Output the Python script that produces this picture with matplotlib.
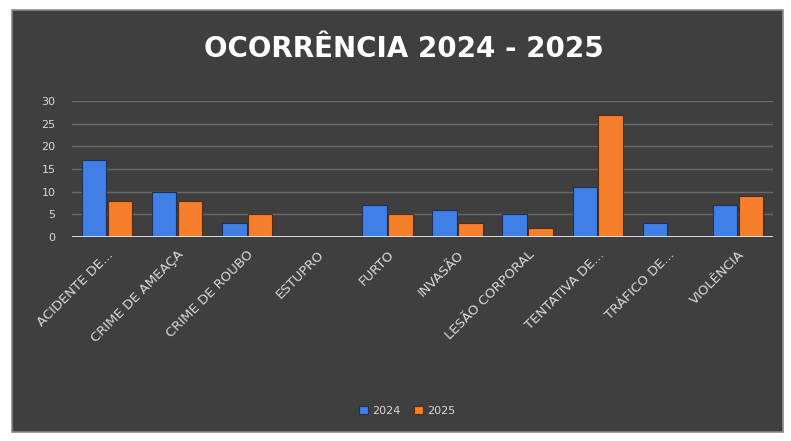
import numpy as np
import matplotlib
matplotlib.use("Agg")
import matplotlib.pyplot as plt
from matplotlib.patches import Rectangle

# data
categories = [
    "ACIDENTE DE...", "CRIME DE AMEAÇA", "CRIME DE ROUBO", "ESTUPRO",
    "FURTO", "INVASÃO", "LESÃO CORPORAL", "TENTATIVA DE...",
    "TRÁFICO DE...", "VIOLÊNCIA",
]
values_2024 = [17, 10, 3, 0, 7, 6, 5, 11, 3, 7]
values_2025 = [8, 8, 5, 0, 5, 3, 2, 27, 0, 9]
yticks = [0, 5, 10, 15, 20, 25, 30]

BG = "#3f3f3f"
BLUE = "#3f7fe6"
ORANGE = "#f57f2a"
TEXT = "#d9d9d9"

fig = plt.figure(figsize=(7.91, 4.41), dpi=100)
fig.patch.set_facecolor("white")
fig.add_artist(Rectangle((12 / 791, 9 / 441), 771 / 791, 422 / 441,
                         transform=fig.transFigure, facecolor=BG,
                         edgecolor="#8a8a8a", linewidth=1.2, zorder=0))

ax = fig.add_axes([72 / 791, 204 / 441, 701 / 791, 136 / 441])
ax.set_facecolor("none")

x = np.arange(len(categories))
w = 0.35
ax.bar(x - w / 2 - 0.01, values_2024, w, color=BLUE, edgecolor="#1f2f55",
       linewidth=0.8, label="2024", zorder=3)
ax.bar(x + w / 2 + 0.01, values_2025, w, color=ORANGE, edgecolor="#5a2a10",
       linewidth=0.8, label="2025", zorder=3)

ax.set_xlim(-0.5, len(categories) - 0.5)
ax.set_ylim(0, 30)
ax.set_yticks(yticks)
ax.set_yticklabels([str(t) for t in yticks], color=TEXT, fontsize=8)
ax.yaxis.set_tick_params(length=0, pad=12)
ax.grid(axis="y", color="#6a6a6a", linewidth=1.0, zorder=0)
ax.axhline(0, color="#e8e8f0", linewidth=2, zorder=4)

ax.set_xticks(x)
ax.set_xticklabels(categories, rotation=45, ha="right", rotation_mode="anchor",
                   color=TEXT, fontsize=9.5)
ax.xaxis.set_tick_params(length=0, pad=8)
for s in ax.spines.values():
    s.set_visible(False)

fig.text(0.51, 0.89, "OCORRÊNCIA 2024 - 2025", ha="center", va="center",
         color="white", fontsize=20, fontweight="bold")

fig.legend(loc="center", bbox_to_anchor=(0.515, 0.068), ncol=2, frameon=False,
           fontsize=8, labelcolor=TEXT, handlelength=0.8, handleheight=0.8,
           handletextpad=0.4, columnspacing=1.2)

fig.savefig("out.png", dpi=100, facecolor=fig.get_facecolor())
